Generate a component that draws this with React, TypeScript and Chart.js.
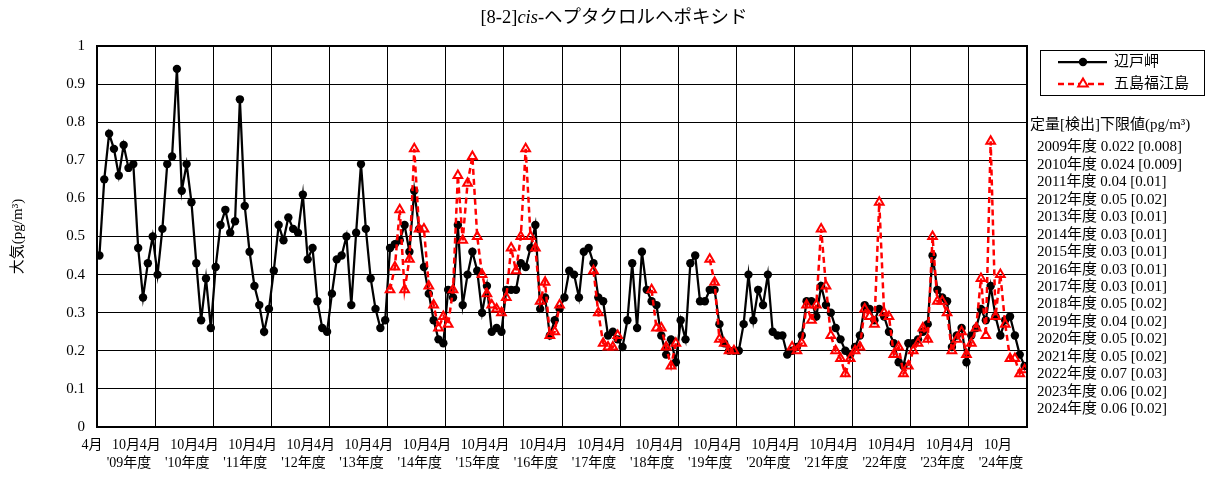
import React, { useEffect, useRef } from 'react';
import { Chart, registerables } from 'chart.js';

Chart.register(...registerables);

const FONT = "'Liberation Serif', 'Noto Sans CJK JP', serif";

// fiscal-year labels (second row of x axis)
const fiscalYearLabels = ["'09年度", "'10年度", "'11年度", "'12年度", "'13年度", "'14年度", "'15年度", "'16年度",
  "'17年度", "'18年度", "'19年度", "'20年度", "'21年度", "'22年度", "'23年度", "'24年度"];

const yTicks = [0, 0.1, 0.2, 0.3, 0.4, 0.5, 0.6, 0.7, 0.8, 0.9, 1];

// detection limits text
const limitHeading = '定量[検出]下限値(pg/m³)';
const limitLines = [
  '2009年度 0.022 [0.008]', '2010年度 0.024 [0.009]', '2011年度 0.04 [0.01]', '2012年度 0.05 [0.02]',
  '2013年度 0.03 [0.01]', '2014年度 0.03 [0.01]', '2015年度 0.03 [0.01]', '2016年度 0.03 [0.01]',
  '2017年度 0.03 [0.01]', '2018年度 0.05 [0.02]', '2019年度 0.04 [0.02]', '2020年度 0.05 [0.02]',
  '2021年度 0.05 [0.02]', '2022年度 0.07 [0.03]', '2023年度 0.06 [0.02]', '2024年度 0.06 [0.02]'];

const seriesNames = ['辺戸岬', '五島福江島'];

// 辺戸岬 monthly values, April 2009 – March 2025 (one row per fiscal year)
const hedo: (number | null)[] = [
  0.45, 0.65, 0.77, 0.73, 0.66, 0.74, 0.68, 0.69, 0.47, 0.34, 0.43, 0.50,
  0.40, 0.52, 0.69, 0.71, 0.94, 0.62, 0.69, 0.59, 0.43, 0.28, 0.39, 0.26,
  0.42, 0.53, 0.57, 0.51, 0.54, 0.86, 0.58, 0.46, 0.37, 0.32, 0.25, 0.31,
  0.41, 0.53, 0.49, 0.55, 0.52, 0.51, 0.61, 0.44, 0.47, 0.33, 0.26, 0.25,
  0.35, 0.44, 0.45, 0.50, 0.32, 0.51, 0.69, 0.52, 0.39, 0.31, 0.26, 0.28,
  0.47, 0.48, 0.49, 0.53, 0.46, 0.62, 0.52, 0.42, 0.35, 0.28, 0.23, 0.22,
  0.36, 0.34, 0.53, 0.32, 0.40, 0.46, 0.41, 0.30, 0.37, 0.25, 0.26, 0.25,
  0.36, 0.36, 0.36, 0.43, 0.42, 0.47, 0.53, 0.31, 0.34, 0.24, 0.28, 0.31,
  0.34, 0.41, 0.40, 0.34, 0.46, 0.47, 0.43, 0.34, 0.33, 0.24, 0.25, 0.23,
  0.21, 0.28, 0.43, 0.26, 0.46, 0.36, 0.33, 0.32, 0.24, 0.19, 0.23, 0.17,
  0.28, 0.23, 0.43, 0.45, 0.33, 0.33, 0.36, 0.36, 0.27, 0.22, 0.20, 0.20,
  0.20, 0.27, 0.40, 0.28, 0.36, 0.32, 0.40, 0.25, 0.24, 0.24, 0.19, 0.20,
  0.21, 0.24, 0.33, 0.33, 0.29, 0.37, 0.32, 0.30, 0.26, 0.23, 0.20, 0.19,
  0.21, 0.24, 0.32, 0.31, 0.28, 0.31, 0.29, 0.25, 0.22, 0.17, 0.16, 0.22,
  0.22, 0.23, 0.25, 0.27, 0.45, 0.36, 0.34, 0.33, 0.21, 0.24, 0.26, 0.17,
  0.24, 0.26, 0.31, 0.28, 0.37, 0.29, 0.24, 0.28, 0.29, 0.24, 0.19, 0.16,
];

// 五島福江島 monthly values (no measurements before FY2014)
const fukue: (number | null)[] = [
  ...Array(60).fill(null),
  0.36, 0.42, 0.57, 0.36, 0.44, 0.73, 0.52, 0.52, 0.37, 0.32, 0.26, 0.29,
  0.27, 0.36, 0.66, 0.49, 0.64, 0.71, 0.50, 0.40, 0.35, 0.32, 0.31, 0.30,
  0.34, 0.47, 0.41, 0.50, 0.73, 0.50, 0.47, 0.33, 0.38, 0.24, 0.25, 0.32,
  null, null, null, null, null, null, 0.41, 0.30, 0.22, 0.21, 0.21, 0.24,
  null, null, null, null, null, null, 0.36, 0.26, 0.26, 0.21, 0.16, 0.22,
  null, null, null, null, null, null, 0.44, 0.38, 0.23, 0.22, 0.20, 0.20,
  null, null, null, null, null, null, null, null, null, null, null, 0.21,
  0.20, 0.22, 0.32, 0.28, 0.32, 0.52, 0.37, 0.24, 0.20, 0.18, 0.14, 0.18,
  0.20, 0.21, 0.31, 0.29, 0.27, 0.59, 0.30, 0.29, 0.19, 0.21, 0.14, 0.16,
  0.20, 0.22, 0.26, 0.23, 0.50, 0.33, 0.33, 0.30, 0.20, 0.23, 0.25, 0.19,
  0.22, 0.26, 0.39, 0.24, 0.75, 0.29, 0.40, 0.27, 0.18, 0.18, 0.14, 0.15,
];

const MONTHS = hedo.length; // 192

function drawTriangle(ctx: CanvasRenderingContext2D, x: number, y: number, r: number) {
  ctx.beginPath();
  ctx.moveTo(x, y - r);
  ctx.lineTo(x + r * 0.95, y + r * 0.6);
  ctx.lineTo(x - r * 0.95, y + r * 0.6);
  ctx.closePath();
  ctx.stroke();
}

const decorPlugin = {
  id: 'decor',
  afterDraw(chart: any) {
    const { ctx, chartArea, scales } = chart;
    const xs = scales.x;
    ctx.save();
    ctx.fillStyle = '#000';
    ctx.textBaseline = 'middle';

    // title with italic part
    const parts = [
      { t: '[8-2]', it: false },
      { t: 'cis', it: true },
      { t: '-ヘプタクロルヘポキシド', it: false },
    ];
    const tSize = 18.5;
    let total = 0;
    parts.forEach(p => {
      ctx.font = `${p.it ? 'italic ' : ''}${tSize}px ${FONT}`;
      total += ctx.measureText(p.t).width;
    });
    let tx = 614 - total / 2;
    ctx.textAlign = 'left';
    parts.forEach(p => {
      ctx.font = `${p.it ? 'italic ' : ''}${tSize}px ${FONT}`;
      ctx.fillText(p.t, tx, 18);
      tx += ctx.measureText(p.t).width;
    });

    // y-axis title
    ctx.save();
    ctx.translate(18, (chartArea.top + chartArea.bottom) / 2);
    ctx.rotate(-Math.PI / 2);
    ctx.textAlign = 'center';
    ctx.font = `15px ${FONT}`;
    ctx.fillText('大気(pg/m³)', 0, 0);
    ctx.restore();

    // x-axis labels
    ctx.font = `14px ${FONT}`;
    ctx.textAlign = 'center';
    for (let k = 0; k < fiscalYearLabels.length; k++) {
      const g0 = xs.getPixelForValue(k * 12);
      const g1 = xs.getPixelForValue((k + 1) * 12);
      const mid = (g0 + g1) / 2;
      ctx.fillText('4月', g0 - 5, 445);
      ctx.fillText('10月', mid, 445);
      ctx.fillText(fiscalYearLabels[k], mid + 3, 463);
    }

    // plot frame
    ctx.strokeStyle = '#000';
    ctx.lineWidth = 2;
    ctx.strokeRect(chartArea.left, chartArea.top, chartArea.right - chartArea.left, chartArea.bottom - chartArea.top);

    // legend
    ctx.lineWidth = 1;
    ctx.strokeRect(1040.5, 50.5, 164, 45);
    // row 1
    ctx.strokeStyle = '#000';
    ctx.lineWidth = 2.25;
    ctx.setLineDash([]);
    ctx.beginPath();
    ctx.moveTo(1058, 62);
    ctx.lineTo(1107, 62);
    ctx.stroke();
    ctx.beginPath();
    ctx.arc(1083, 62, 4.2, 0, Math.PI * 2);
    ctx.fill();
    // row 2
    ctx.strokeStyle = '#ff0000';
    ctx.lineWidth = 2.5;
    ctx.setLineDash([6, 4]);
    ctx.beginPath();
    ctx.moveTo(1058, 84);
    ctx.lineTo(1107, 84);
    ctx.stroke();
    ctx.setLineDash([]);
    ctx.fillStyle = '#fff';
    ctx.beginPath();
    ctx.moveTo(1083, 79);
    ctx.lineTo(1087.8, 87);
    ctx.lineTo(1078.2, 87);
    ctx.closePath();
    ctx.fill();
    ctx.lineWidth = 2;
    drawTriangle(ctx, 1083, 83.5, 5);
    ctx.fillStyle = '#000';
    ctx.font = `15px ${FONT}`;
    ctx.textAlign = 'left';
    ctx.fillText(seriesNames[0], 1114, 62);
    ctx.fillText(seriesNames[1], 1114, 84);

    // detection limits
    ctx.fillText(limitHeading, 1030, 125);
    limitLines.forEach((s, i) => {
      ctx.fillText(s, 1037, 147.5 + i * 17.45);
    });
    ctx.restore();
  },
};

export default function App() {
  const ref = useRef<HTMLCanvasElement | null>(null);

  useEffect(() => {
    if (!ref.current) return;
    const toPts = (arr: (number | null)[]) => arr.map((v, i) => ({ x: i + 0.5, y: v }));
    const chart = new Chart(ref.current, {
      type: 'line',
      data: {
        datasets: [
          {
            label: seriesNames[0],
            data: toPts(hedo) as any,
            borderColor: '#000',
            backgroundColor: '#000',
            borderWidth: 2.25,
            pointStyle: 'circle',
            pointRadius: 4.2,
            pointBackgroundColor: '#000',
            pointBorderColor: '#000',
            pointBorderWidth: 0,
            spanGaps: false,
            tension: 0,
            order: 2,
          },
          {
            label: seriesNames[1],
            data: toPts(fukue) as any,
            borderColor: '#ff0000',
            backgroundColor: 'rgba(0,0,0,0)',
            borderWidth: 2.5,
            borderDash: [6, 4],
            pointStyle: 'triangle',
            pointRadius: 5,
            pointBackgroundColor: 'rgba(0,0,0,0)',
            pointBorderColor: '#ff0000',
            pointBorderWidth: 2,
            spanGaps: false,
            tension: 0,
            order: 1,
          },
        ],
      },
      options: {
        animation: false,
        responsive: false,
        devicePixelRatio: 1,
        layout: { padding: { left: 0, right: 180, top: 46, bottom: 0 } },
        plugins: {
          legend: { display: false },
          tooltip: { enabled: false },
          title: { display: false },
        },
        scales: {
          x: {
            type: 'linear',
            min: 0,
            max: MONTHS,
            afterFit: (s: any) => { s.height = 50; },
            ticks: { display: false, stepSize: 12 },
            grid: { color: '#000', lineWidth: 1, drawTicks: false },
            border: { display: false },
          },
          y: {
            min: yTicks[0],
            max: yTicks[yTicks.length - 1],
            afterFit: (s: any) => { s.width = 97; },
            ticks: {
              stepSize: 0.1,
              padding: 12,
              color: '#000',
              font: { family: FONT, size: 15 },
              callback: (v: any) => String(Math.round(Number(v) * 10) / 10),
            },
            grid: { color: '#000', lineWidth: 1, drawTicks: false },
            border: { display: false },
          },
        },
      },
      plugins: [decorPlugin],
    });
    return () => chart.destroy();
  }, []);

  return (
    <div style={{ position: 'absolute', left: 0, top: 0, width: 1207, height: 477, background: '#fff' }}>
      <canvas ref={ref} width={1207} height={477} style={{ display: 'block' }} />
    </div>
  );
}
